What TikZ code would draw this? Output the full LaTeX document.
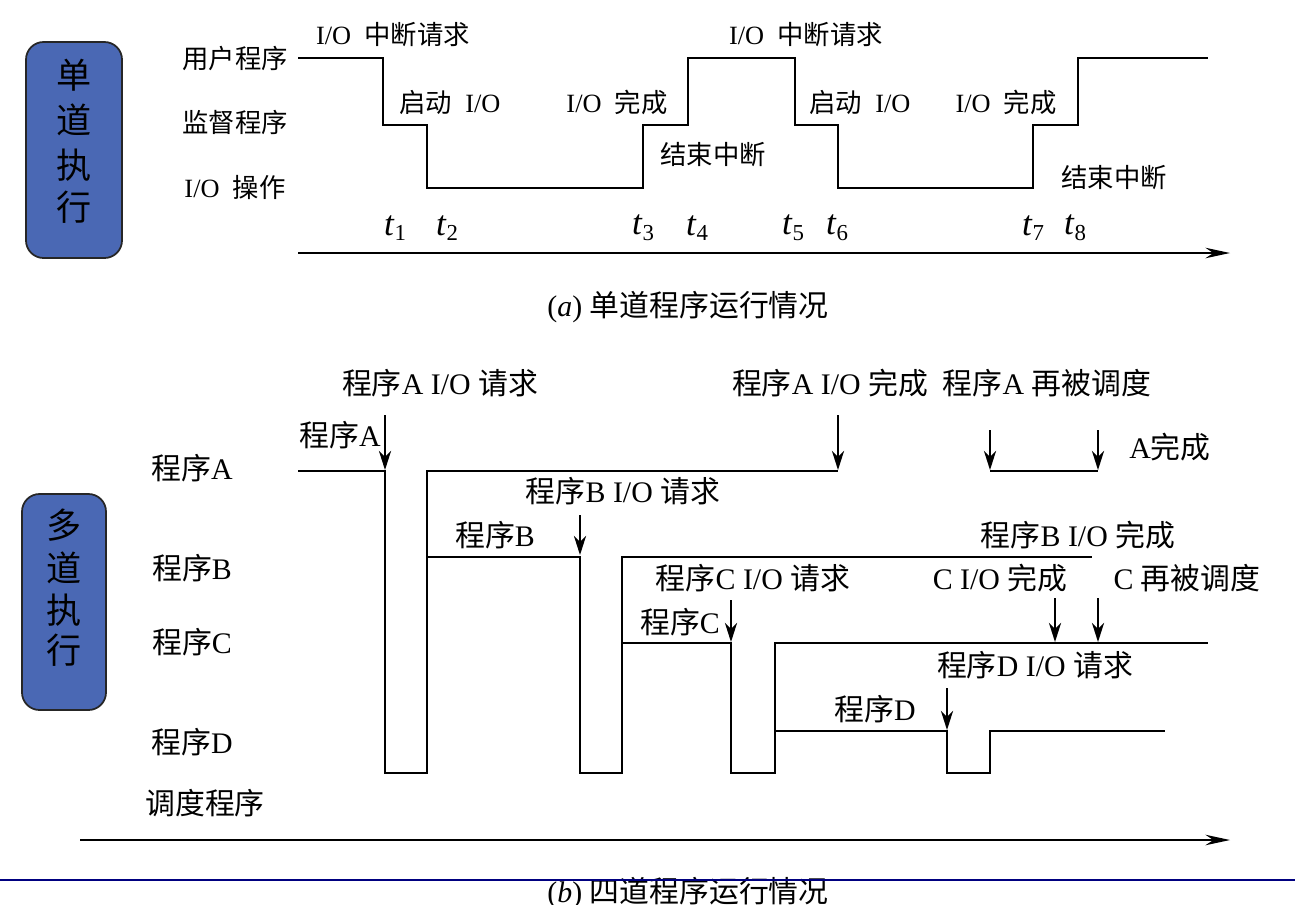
\documentclass[tikz,border=0pt]{standalone}
\usepackage{fontspec}
\setmainfont{Liberation Serif}
\newfontfamily\cjk{Noto Sans CJK SC}
\usetikzlibrary{arrows.meta}
\newcommand\zh[1]{{\cjk #1}}
\definecolor{boxblue}{HTML}{4A68B4}
\begin{document}
\begin{tikzpicture}[x=0.02cm,y=-0.02cm,font=\fontsize{15}{17}\selectfont,
  sig/.style={line width=0.9pt},
  dn/.style={line width=0.9pt,-{Stealth[length=11pt,width=7pt]}},
  axis/.style={line width=0.9pt,-{Stealth[length=14pt,width=6pt]}},
  lbl/.style={inner sep=0pt,anchor=center},
  big/.style={font=\fontsize{17}{19}\selectfont},
  vbox/.style={draw=black!85,line width=1pt,rounded corners=10pt,fill=boxblue}]
\path[use as bounding box] (0,0) rectangle (1295,904);
\clip (0,0) rectangle (1295,904);
% top
\draw[vbox] (26,42) rectangle (122,258);
\foreach \c/\y in {单/75,道/120,执/165,行/207} \node[lbl,font=\fontsize{20}{22}\selectfont] at (74,\y) {\zh{\c}};
\node[lbl] (u) at (235,58) {\zh{用户程序}};
\node[lbl] (s) at (235,122) {\zh{监督程序}};
\node[lbl] (o) at (235,187) {I/O\ \ \zh{操作}};
\draw[sig] (298,58)-|(383,125)-|(427,188)-|(643,125)-|(688,58)-|(795,125)-|(838,188)-|(1033,125)-|(1078,58)--(1208,58);
\node[lbl] at (393,35) {I/O\ \ \zh{中断请求}};
\node[lbl] at (450,102) {\zh{启动}\ \ I/O};
\node[lbl] at (617,102) {I/O\ \ \zh{完成}};
\node[lbl] at (713,155) {\zh{结束中断}};
\node[lbl] at (806,35) {I/O\ \ \zh{中断请求}};
\node[lbl] at (860,102) {\zh{启动}\ \ I/O};
\node[lbl] at (1006,102) {I/O\ \ \zh{完成}};
\node[lbl] at (1114,178) {\zh{结束中断}};
\foreach \i/\x in {1/395,2/447,3/643,4/697,5/793,6/837,7/1033,8/1075}
  \node[lbl,font=\fontsize{20}{22}\selectfont] at (\x,228) {\textit{t}\raisebox{-0.35ex}{\fontsize{13}{14}\selectfont\i}};
\coordinate (a1) at (298,253); \coordinate (a2) at (1230,253);
\draw[axis] (a1)--(a2);
\node[lbl,big] at (688,307) {(\textit{a}) \zh{单道程序运行情况}};
% bottom
\draw[vbox] (22,494) rectangle (106,710);
\foreach \c/\y in {多/525,道/568,执/610,行/650} \node[lbl,font=\fontsize{20}{22}\selectfont] at (64,\y) {\zh{\c}};
\begin{scope}[every node/.append style={big}]
\node[lbl] at (192,468) {\zh{程序}A};
\node[lbl] at (192,568) {\zh{程序}B};
\node[lbl] at (192,642) {\zh{程序}C};
\node[lbl] at (192,742) {\zh{程序}D};
\node[lbl] at (205,803) {\zh{调度程序}};
\node[lbl] at (440,383) {\zh{程序}A I/O \zh{请求}};
\node[lbl] at (830,383) {\zh{程序}A I/O \zh{完成}};
\node[lbl] at (1047,383) {\zh{程序}A \zh{再被调度}};
\node[lbl] at (340,435) {\zh{程序}A};
\node[lbl] at (1170,447) {A\zh{完成}};
\node[lbl] at (623,491) {\zh{程序}B I/O \zh{请求}};
\node[lbl] at (495,535) {\zh{程序}B};
\node[lbl] at (1078,535) {\zh{程序}B I/O \zh{完成}};
\node[lbl] at (753,578) {\zh{程序}C I/O \zh{请求}};
\node[lbl] at (1000,578) {C I/O \zh{完成}};
\node[lbl] at (1187,578) {C \zh{再被调度}};
\node[lbl] at (680,622) {\zh{程序}C};
\node[lbl] at (1035,665) {\zh{程序}D I/O \zh{请求}};
\node[lbl] at (875,709) {\zh{程序}D};
\node[lbl] at (688,893) {(\textit{b}) \zh{四道程序运行情况}};
\end{scope}
\draw[sig] (298,471)-|(385,773)-|(427,471)--(838,471);
\draw[sig] (990,471)--(1098,471);
\draw[sig] (427,557)-|(580,773)-|(622,557)--(1092,557);
\draw[sig] (622,643)-|(731,773)-|(775,643)--(1208,643);
\draw[sig] (775,731)-|(947,773)-|(990,731)--(1165,731);
\foreach \x/\ya/\yb in {385/415/470,838/415/470,990/430/470,1098/430/470,580/515/555,731/600/642,1055/598/642,1098/598/642,947/688/730}
  \draw[dn] (\x,\ya)--(\x,\yb);
\coordinate (b1) at (80,840); \coordinate (b2) at (1230,840);
\draw[axis] (b1)--(b2);
\draw[blue!50!black,line width=0.8pt] (0,880)--(1295,880);
\end{tikzpicture}
\end{document}
